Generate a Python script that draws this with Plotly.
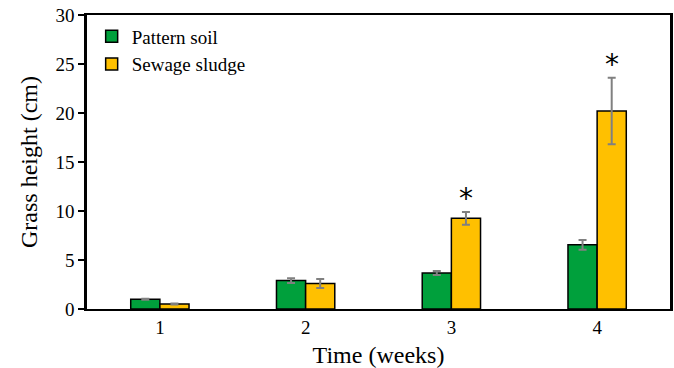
import plotly.graph_objects as go

weeks = ["1", "2", "3", "4"]
pattern_soil = [1.0, 2.9, 3.67, 6.55]
pattern_soil_err = [0.05, 0.25, 0.2, 0.5]
sewage_sludge = [0.5, 2.6, 9.25, 20.2]
sewage_sludge_err = [0.05, 0.45, 0.65, 3.4]
significant = [False, False, True, True]

x_num = [1, 2, 3, 4]
serif = "'Liberation Serif', 'Times New Roman', Times, serif"

fig = go.Figure()
fig.add_trace(go.Bar(
    x=x_num, y=pattern_soil, name="Pattern soil",
    marker=dict(color="#00A03C", line=dict(color="black", width=1.5)),
    error_y=dict(type="data", array=pattern_soil_err, color="#808080", thickness=2, width=4),
))
fig.add_trace(go.Bar(
    x=x_num, y=sewage_sludge, name="Sewage sludge",
    marker=dict(color="#FFC000", line=dict(color="black", width=1.5)),
    error_y=dict(type="data", array=sewage_sludge_err, color="#808080", thickness=2, width=4),
))

# significance markers above the sewage sludge bars
for xi, v, e, s in zip(x_num, sewage_sludge, sewage_sludge_err, significant):
    if s:
        fig.add_annotation(x=xi + 0.1, y=v + e, text="*", showarrow=False,
                           yanchor="bottom", yshift=-5,
                           font=dict(family="DejaVu Sans", size=28, color="black"))

fig.update_layout(
    width=674, height=368,
    margin=dict(l=87, r=1, t=15, b=59),
    plot_bgcolor="white", paper_bgcolor="white",
    barmode="group", bargap=0.6, bargroupgap=0,
    font=dict(family=serif, color="black"),
    legend=dict(x=0.008, y=0.992, xanchor="left", yanchor="top",
                font=dict(family=serif, size=19), bgcolor="rgba(0,0,0,0)",
                itemwidth=30, tracegroupgap=0),
    showlegend=True,
)
fig.update_xaxes(
    range=[0.5, 4.5], tickvals=x_num, ticktext=weeks,
    showline=True, linecolor="black", linewidth=2, mirror=True,
    ticks="", showgrid=False, zeroline=False,
    tickfont=dict(family=serif, size=19),
    title=dict(text="Time (weeks)", font=dict(family=serif, size=24), standoff=10),
)
fig.update_yaxes(
    range=[0, 30], tickvals=[0, 5, 10, 15, 20, 25, 30],
    showline=True, linecolor="black", linewidth=2.5, mirror=True,
    ticks="outside", ticklen=6, tickwidth=1.5, tickcolor="black",
    showgrid=False, zeroline=False,
    tickfont=dict(family=serif, size=19),
    title=dict(text="Grass height (cm)", font=dict(family=serif, size=24), standoff=12),
)

fig.write_html("out.html")
